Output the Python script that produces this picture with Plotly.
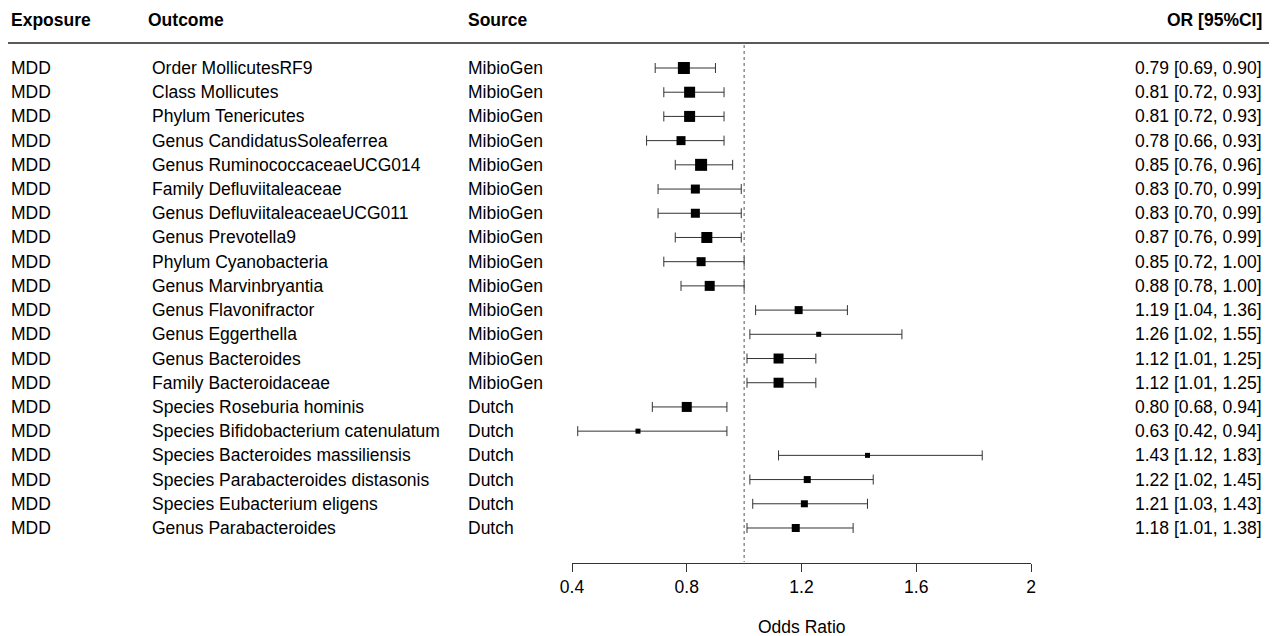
import plotly.graph_objects as go

exposure = ["MDD"] * 20
outcome = [
    "Order MollicutesRF9", "Class Mollicutes", "Phylum Tenericutes",
    "Genus CandidatusSoleaferrea", "Genus RuminococcaceaeUCG014",
    "Family Defluviitaleaceae", "Genus DefluviitaleaceaeUCG011",
    "Genus Prevotella9", "Phylum Cyanobacteria", "Genus Marvinbryantia",
    "Genus Flavonifractor", "Genus Eggerthella", "Genus Bacteroides",
    "Family Bacteroidaceae", "Species Roseburia hominis",
    "Species Bifidobacterium catenulatum", "Species Bacteroides massiliensis",
    "Species Parabacteroides distasonis", "Species Eubacterium eligens",
    "Genus Parabacteroides",
]
source = ["MibioGen"] * 14 + ["Dutch"] * 6
or_val = [0.79, 0.81, 0.81, 0.78, 0.85, 0.83, 0.83, 0.87, 0.85, 0.88,
          1.19, 1.26, 1.12, 1.12, 0.80, 0.63, 1.43, 1.22, 1.21, 1.18]
ci_low = [0.69, 0.72, 0.72, 0.66, 0.76, 0.70, 0.70, 0.76, 0.72, 0.78,
          1.04, 1.02, 1.01, 1.01, 0.68, 0.42, 1.12, 1.02, 1.03, 1.01]
ci_high = [0.90, 0.93, 0.93, 0.93, 0.96, 0.99, 0.99, 0.99, 1.00, 1.00,
           1.36, 1.55, 1.25, 1.25, 0.94, 0.94, 1.83, 1.45, 1.43, 1.38]
marker_px = [12, 11, 11, 9, 12, 9, 9, 11, 9, 10, 8, 5, 10, 10, 10, 5, 5, 7, 7, 8]
x_ticks = [0.4, 0.8, 1.2, 1.6, 2.0]
x_tick_labels = ["0.4", "0.8", "1.2", "1.6", "2"]

# page has an 8px body margin; size the figure so it fits the 1277x636 window
OFF = 8
FW, FH = 1277 - OFF, 636 - OFF
row0_px, row_step = 68, 24.21          # target-page pixel positions
def ypos(p):                            # target page y-pixel -> data y
    return (p - row0_px) / row_step
def xpaper(p):                          # target page x-pixel -> paper x
    return (p - OFF) / FW

rows = list(range(len(outcome)))
FONT = "Liberation Sans, Arial, sans-serif"
FS = 17.5

fig = go.Figure()
fig.add_trace(go.Scatter(
    x=or_val, y=rows, mode="markers",
    marker=dict(symbol="square", color="black", size=marker_px, opacity=1,
                line=dict(width=0)),
    error_x=dict(type="data", symmetric=False,
                 array=[h - o for h, o in zip(ci_high, or_val)],
                 arrayminus=[o - l for l, o in zip(ci_low, or_val)],
                 color="#333333", thickness=1, width=5),
    hoverinfo="skip", showlegend=False,
))

ann = []
def txt(x_px, y, s, anchor="left", bold=False):
    ann.append(dict(x=xpaper(x_px), xref="paper", y=y, yref="y",
                    text=("<b>%s</b>" % s) if bold else s,
                    showarrow=False, xanchor=anchor, yanchor="middle",
                    font=dict(family=FONT, size=FS, color="black")))

hy = ypos(20)
txt(9, hy, "Exposure", bold=True)
txt(146, hy, "Outcome", bold=True)
txt(466, hy, "Source", bold=True)
txt(1264, hy, "OR [95%CI]", anchor="right", bold=True)
for i in rows:
    txt(9, i, exposure[i])
    txt(150, i, outcome[i])
    txt(466, i, source[i])
    txt(1264, i, "%.2f [%.2f, %.2f]" % (or_val[i], ci_low[i], ci_high[i]), anchor="right")
ann.append(dict(x=xpaper((572 + 1031) / 2), xref="paper", y=ypos(627), yref="y", text="Odds Ratio",
                showarrow=False, xanchor="center", yanchor="middle",
                font=dict(family=FONT, size=FS, color="black")))

shapes = [
    dict(type="line", xref="paper", x0=0, x1=1, yref="y", y0=ypos(43), y1=ypos(43),
         line=dict(color="#222222", width=1.5)),
    dict(type="line", xref="x", x0=1.0, x1=1.0, yref="y", y0=ypos(45), y1=ypos(562),
         line=dict(color="#555555", width=1, dash="dot")),
]

fig.update_layout(
    width=FW, height=FH, margin=dict(l=0, r=0, t=0, b=0, pad=0, autoexpand=False),
    paper_bgcolor="white", plot_bgcolor="white",
    annotations=ann, shapes=shapes,
    xaxis=dict(domain=[xpaper(572), xpaper(1031)], range=[0.4, 2.0],
               tickvals=x_ticks, ticktext=x_tick_labels,
               showgrid=False, zeroline=False, showline=True, linecolor="#333333", linewidth=1,
               ticks="outside", ticklen=8, tickcolor="#333333", anchor="free", automargin=False,
               position=1 - (563 - OFF) / FH, tickfont=dict(family=FONT, size=FS, color="black")),
    yaxis=dict(domain=[0, 1], range=[ypos(636), ypos(OFF)], visible=False, showgrid=False,
               zeroline=False, automargin=False),
)
fig.write_html("out.html")
